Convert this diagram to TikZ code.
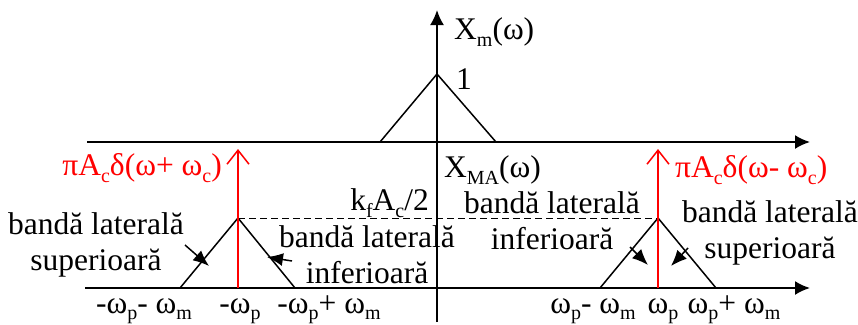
\documentclass[tikz,border=0pt]{standalone}
\usepackage{fontspec}
\setmainfont{Liberation Serif}
\newfontfamily\tms{Liberation Serif}
\usetikzlibrary{arrows.meta}
\newcommand{\lowidx}[1]{\raisebox{-0.22em}{\fontsize{20}{20}\selectfont #1}}
\begin{document}
\begin{tikzpicture}[x=1pt,y=-1pt,
  lbl/.style={inner sep=0pt, align=center, font=\tms\fontsize{31.5}{36}\selectfont},
  redlbl/.style={lbl, text=red},
  axis/.style={line width=2pt, -{Latex[length=15pt,width=14pt]}},
  curve/.style={line width=1.5pt},
  impulse/.style={red, line width=2pt, -{Straight Barb[length=14pt,width=22pt,line width=1.5pt]}},
  pointer/.style={line width=1.5pt, -{Latex[length=16pt,width=13pt]}},
  guide/.style={line width=1pt, dashed, dash pattern=on 7pt off 4pt}]
\useasboundingbox (0,0) rectangle (858,324);
% axes
\coordinate (vb) at (437,322);
\coordinate (vt) at (437,10);
\coordinate (u0) at (87,142);
\coordinate (u1) at (810,142);
\coordinate (l0) at (85,288);
\coordinate (l1) at (810,288);
\draw[axis] (vb) -- (vt);
\draw[axis] (u0) -- (u1);
\draw[axis] (l0) -- (l1);
% upper triangle
\coordinate (ta) at (380,142);
\coordinate (tp) at (437,74);
\coordinate (tb) at (496,142);
\draw[curve] (ta) -- (tp) -- (tb);
% lower triangles
\coordinate (la) at (180,288);
\coordinate (lp) at (238,218);
\coordinate (lb) at (295,288);
\draw[curve] (la) -- (lp) -- (lb);
\coordinate (ra) at (600,288);
\coordinate (rp) at (658,218);
\coordinate (rb) at (716,288);
\draw[curve] (ra) -- (rp) -- (rb);
\draw[guide] (lp) -- (rp);
% impulses
\coordinate (li0) at (238,288);
\coordinate (li1) at (238,149);
\coordinate (ri0) at (658,288);
\coordinate (ri1) at (658,149);
\draw[impulse] (li0) -- (li1);
\draw[impulse] (ri0) -- (ri1);
% labels
\node[lbl, anchor=west] (xm) at (454,32) {X\lowidx{m}(ω)};
\node[lbl, anchor=west] (one) at (456,79) {1};
\node[lbl, anchor=west] (xma) at (444,170) {X\lowidx{MA}(ω)};
\node[lbl, anchor=east] (kf) at (429,203) {k\lowidx{f}A\lowidx{c}/2};
\node[redlbl, anchor=east] (dl) at (222,168) {πA\lowidx{c}δ(ω+ ω\lowidx{c})};
\node[redlbl, anchor=west] (dr) at (675,170) {πA\lowidx{c}δ(ω- ω\lowidx{c})};
\node[lbl] (bls) at (96,245) {bandă laterală\\superioară};
\node[lbl] (bli) at (367,255) {bandă laterală\\inferioară};
\node[lbl] (bri) at (552,221) {bandă laterală\\inferioară};
\node[lbl] (brs) at (770,233) {bandă laterală\\superioară};
% pointer arrows
\coordinate (p1s) at (185,245); \coordinate (p1e) at (209,266);
\coordinate (p2s) at (292,261); \coordinate (p2e) at (267,257);
\coordinate (p3s) at (630,247); \coordinate (p3e) at (648,265);
\coordinate (p4s) at (688,248); \coordinate (p4e) at (671,266);
\draw[pointer] (p1s) -- (p1e);
\draw[pointer] (p2s) -- (p2e);
\draw[pointer] (p3s) -- (p3e);
\draw[pointer] (p4s) -- (p4e);
% bottom tick labels
\node[lbl, anchor=base] (t1) at (144,313) {-ω\lowidx{p}- ω\lowidx{m}};
\node[lbl, anchor=base] (t2) at (240,313) {-ω\lowidx{p}};
\node[lbl, anchor=base] (t3) at (329,313) {-ω\lowidx{p}+ ω\lowidx{m}};
\node[lbl, anchor=base] (t4) at (593,313) {ω\lowidx{p}- ω\lowidx{m}};
\node[lbl, anchor=base] (t5) at (663,313) {ω\lowidx{p}};
\node[lbl, anchor=base] (t6) at (734,313) {ω\lowidx{p}+ ω\lowidx{m}};
\end{tikzpicture}
\end{document}
